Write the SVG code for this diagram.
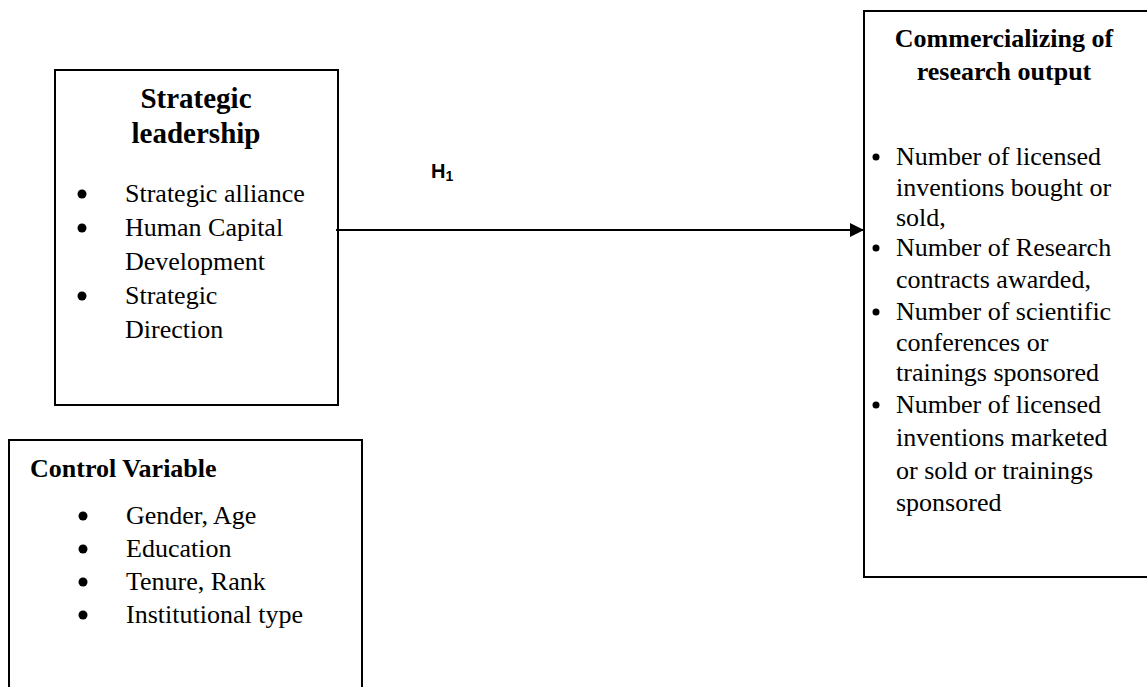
<svg xmlns="http://www.w3.org/2000/svg" width="1147" height="687" viewBox="0 0 1147 687">
<style>
.box{fill:#fff;stroke:#000;stroke-width:2}
.t{font-family:"Liberation Serif","Times New Roman",serif;font-size:26px;fill:#000}
.tb{font-family:"Liberation Serif","Times New Roman",serif;font-weight:bold;fill:#000}
.h{font-family:"Liberation Sans",Arial,sans-serif;font-weight:bold;font-size:20px;fill:#000}
.conn{stroke:#000;stroke-width:2;fill:none}
</style>
<defs>
<marker id="arr" markerWidth="14" markerHeight="14" refX="14" refY="7" orient="auto" markerUnits="userSpaceOnUse">
<path d="M0,0 L14,7 L0,14 Z" fill="#000"/>
</marker>
</defs>
<rect width="1147" height="687" fill="#fff"/>
<g id="strategic-leadership">
<rect class="box" x="55" y="70" width="283" height="335"/>
<text class="tb" font-size="29" x="196" y="108" text-anchor="middle">Strategic</text>
<text class="tb" font-size="29" x="196" y="143" text-anchor="middle">leadership</text>
<circle cx="82" cy="194" r="4.5"/>
<text class="t" x="125" y="202">Strategic alliance</text>
<circle cx="82" cy="228" r="4.5"/>
<text class="t" x="125" y="236">Human Capital</text>
<text class="t" x="125" y="270">Development</text>
<circle cx="82" cy="296" r="4.5"/>
<text class="t" x="125" y="304">Strategic</text>
<text class="t" x="125" y="338">Direction</text>
</g>
<g id="control-variable">
<rect class="box" x="9" y="440" width="353" height="270"/>
<text class="tb" font-size="26" x="30" y="477">Control Variable</text>
<circle cx="83" cy="516" r="4.5"/>
<text class="t" x="126" y="524">Gender, Age</text>
<circle cx="83" cy="549" r="4.5"/>
<text class="t" x="126" y="557">Education</text>
<circle cx="83" cy="582" r="4.5"/>
<text class="t" x="126" y="590">Tenure, Rank</text>
<circle cx="83" cy="615" r="4.5"/>
<text class="t" x="126" y="623">Institutional type</text>
</g>
<g id="commercializing">
<rect class="box" x="864" y="11" width="300" height="566"/>
<text class="tb" font-size="26" x="1004" y="47" text-anchor="middle">Commercializing of</text>
<text class="tb" font-size="26" x="1004" y="80" text-anchor="middle">research output</text>
<circle cx="876" cy="157" r="3.5"/>
<text class="t" x="896" y="165">Number of licensed</text>
<text class="t" x="896" y="196">inventions bought or</text>
<text class="t" x="896" y="226">sold,</text>
<circle cx="876" cy="248" r="3.5"/>
<text class="t" x="896" y="256">Number of Research</text>
<text class="t" x="896" y="288">contracts awarded,</text>
<circle cx="876" cy="312" r="3.5"/>
<text class="t" x="896" y="320">Number of scientific</text>
<text class="t" x="896" y="351">conferences or</text>
<text class="t" x="896" y="381">trainings sponsored</text>
<circle cx="876" cy="405" r="3.5"/>
<text class="t" x="896" y="413">Number of licensed</text>
<text class="t" x="896" y="446">inventions marketed</text>
<text class="t" x="896" y="479">or sold or trainings</text>
<text class="t" x="896" y="511">sponsored</text>
</g>
<g id="connectors">
<line class="conn" x1="336" y1="230" x2="864" y2="230" marker-end="url(#arr)"/>
<text class="h" x="431" y="178">H<tspan font-size="14" dy="3">1</tspan></text>
</g>
</svg>
